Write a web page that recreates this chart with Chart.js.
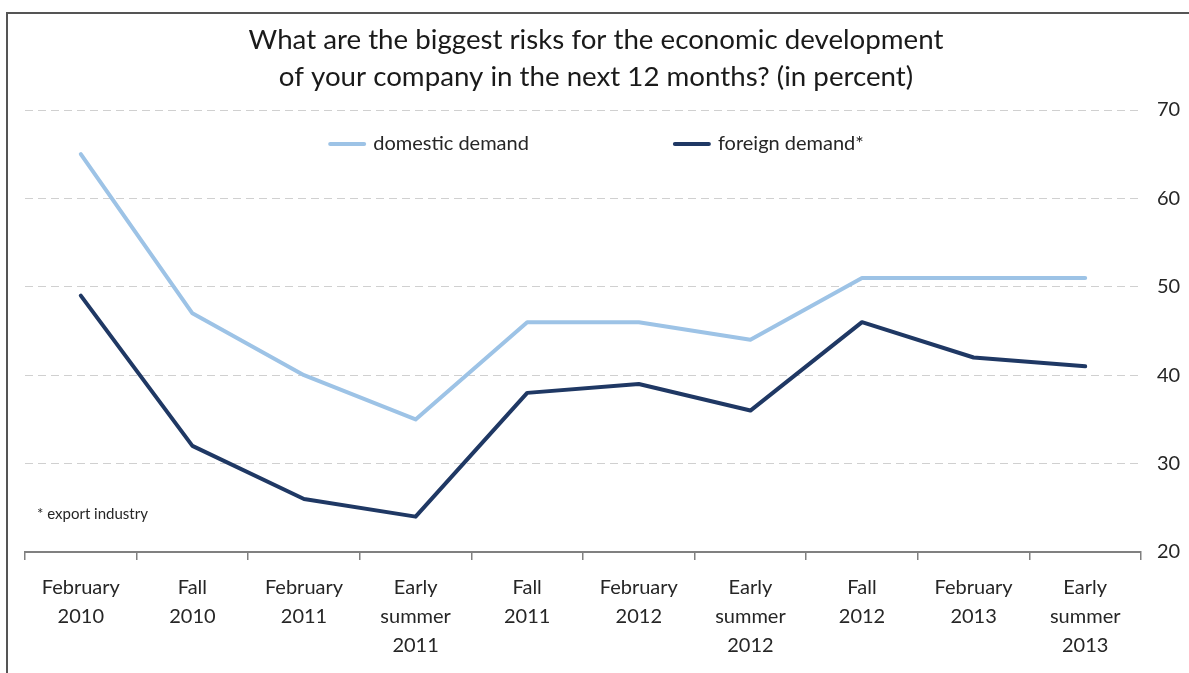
<!DOCTYPE html>
<html><head><meta charset="utf-8">
<script src="https://cdn.jsdelivr.net/npm/chart.js@4.4.0/dist/chart.umd.min.js"></script>
<style>html,body{margin:0;padding:0;background:#fff;overflow:hidden}#wrap{width:1189px;height:673px;position:relative}</style>
</head><body><div id="wrap"><canvas id="c" width="1189" height="673"></canvas></div>
<script>
const categories = [["February","2010"],["Fall","2010"],["February","2011"],["Early","summer","2011"],["Fall","2011"],["February","2012"],["Early","summer","2012"],["Fall","2012"],["February","2013"],["Early","summer","2013"]];
const domesticDemand = [65,47,40,35,46,46,44,51,51,51];
const foreignDemand = [49,32,26,24,38,39,36,46,42,41];
const yMin = 20, yMax = 70, yStep = 10;
const seriesNames = ["domestic demand","foreign demand*"];
const titleLines = ["What are the biggest risks for the economic development","of your company in the next 12 months? (in percent)"];
const footnote = "* export industry";

const FONT = "Lato, 'Liberation Sans', sans-serif";
const TEXT = "#262626";

const decorPlugin = {
  id: 'decor',
  beforeDraw(chart) {
    const ctx = chart.ctx;
    ctx.save();
    ctx.strokeStyle = '#555555';
    ctx.lineWidth = 2;
    ctx.beginPath();
    ctx.moveTo(7, chart.height + 5);
    ctx.lineTo(7, 13);
    ctx.lineTo(chart.width + 5, 13);
    ctx.stroke();
    // title
    ctx.font = "27.7px " + FONT;
    ctx.fillStyle = '#1a1a1a';
    ctx.textAlign = 'center';
    ctx.textBaseline = 'middle';
    titleLines.forEach((t, i) => ctx.fillText(t, 596, 40.5 + i * 36.4));
    ctx.restore();
  },
  afterDatasetsDraw(chart) {
    const ctx = chart.ctx;
    const ca = chart.chartArea;
    ctx.save();
    // legend
    ctx.font = "20px " + FONT;
    ctx.textBaseline = 'middle';
    ctx.fillStyle = TEXT;
    const sw = 38, gap = 7, itemGap = 144;
    const ds = chart.data.datasets;
    const widths = ds.map(d => ctx.measureText(d.label).width);
    let total = 0;
    ds.forEach((d, i) => { total += sw + gap + widths[i]; if (i < ds.length - 1) total += itemGap; });
    let x = chart.width / 2 + 1.5 - total / 2;
    const y = 144;
    ds.forEach((d, i) => {
      ctx.strokeStyle = d.borderColor;
      ctx.lineWidth = 4;
      ctx.lineCap = 'round';
      ctx.beginPath();
      ctx.moveTo(x + 2, y);
      ctx.lineTo(x + sw - 2, y);
      ctx.stroke();
      ctx.fillText(d.label, x + sw + gap, y);
      x += sw + gap + widths[i] + itemGap;
    });
    // footnote
    ctx.font = "15px " + FONT;
    ctx.textBaseline = 'middle';
    ctx.fillText(footnote, ca.left + 12, 514);
    ctx.restore();
  }
};

new Chart(document.getElementById('c'), {
  type: 'line',
  data: {
    labels: categories,
    datasets: [
      { label: seriesNames[0], data: domesticDemand, borderColor: '#9dc3e6', backgroundColor: '#9dc3e6', borderWidth: 4, pointRadius: 0, tension: 0, borderCapStyle: 'round', borderJoinStyle: 'round' },
      { label: seriesNames[1], data: foreignDemand, borderColor: '#1f3864', backgroundColor: '#1f3864', borderWidth: 4, pointRadius: 0, tension: 0, borderCapStyle: 'round', borderJoinStyle: 'round' }
    ]
  },
  options: {
    responsive: false,
    animation: false,
    devicePixelRatio: 1,
    layout: { padding: { left: 25, right: 0, top: 110, bottom: 0 } },
    plugins: {
      legend: { display: false },
      tooltip: { enabled: false },
      title: { display: false }
    },
    scales: {
      x: {
        offset: true,
        grid: { display: true, offset: true, drawOnChartArea: false, drawTicks: true, tickLength: 8, color: '#808080', lineWidth: 1.5 },
        border: { display: true, color: '#808080', width: 2 },
        ticks: { color: TEXT, font: { family: FONT, size: 20, lineHeight: 1.45 }, padding: 13, maxRotation: 0, autoSkip: false },
        afterFit(s) { s.height = 121; }
      },
      y: {
        position: 'right',
        min: yMin, max: yMax,
        grid: { color: '#d0d0d0', lineWidth: 1, drawTicks: false },
        border: { display: false, dash: [8, 5] },
        ticks: { stepSize: yStep, color: TEXT, font: { family: FONT, size: 20 }, padding: 16 },
        afterFit(s) { s.width = 48; }
      }
    }
  },
  plugins: [decorPlugin]
});
</script>
</body></html>
